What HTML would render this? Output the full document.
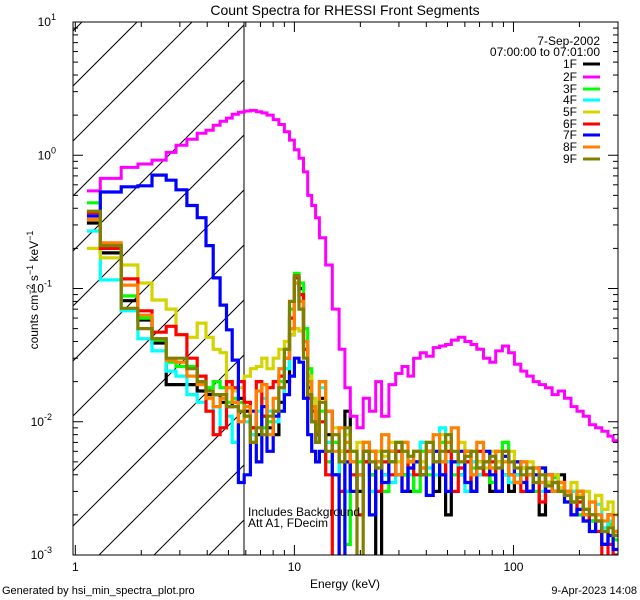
<!DOCTYPE html>
<html><head><meta charset="utf-8"><style>
body{margin:0;background:#fff;}
svg{display:block;font-family:"Liberation Sans",sans-serif;}
</style></head><body>
<svg id="chart" width="640" height="600" viewBox="0 0 640 600" xmlns="http://www.w3.org/2000/svg">
<rect width="640" height="600" fill="#fff"/>
<text x="345" y="15" text-anchor="middle" font-size="14">Count Spectra for RHESSI Front Segments</text>
<defs><clipPath id="hatchclip"><rect x="73" y="22" width="171" height="533"/></clipPath>
<clipPath id="plotclip"><rect x="73" y="22" width="545" height="533"/></clipPath></defs>
<g id="hatch" clip-path="url(#hatchclip)"></g>
<line x1="244" y1="22" x2="244" y2="555" stroke="#000" stroke-width="1"/>
<g id="series" clip-path="url(#plotclip)"></g>
<g id="axes"></g>
<text x="345" y="588" text-anchor="middle" font-size="12">Energy (keV)</text>
<text transform="translate(38,290) rotate(-90)" text-anchor="middle" font-size="12">counts cm<tspan dy="-5" font-size="9">−2</tspan><tspan dy="5"> s</tspan><tspan dy="-5" font-size="9">−1</tspan><tspan dy="5"> keV</tspan><tspan dy="-5" font-size="9">−1</tspan></text>
<text x="600" y="45" text-anchor="end" font-size="12">7-Sep-2002</text>
<text x="600" y="56" text-anchor="end" font-size="12">07:00:00 to 07:01:00</text>
<g id="legend"></g>
<text x="248" y="516" font-size="12">Includes Background</text>
<text x="248" y="527" font-size="12">Att A1, FDecim</text>
<text x="2" y="594" font-size="11">Generated by hsi_min_spectra_plot.pro</text>
<text x="637" y="594" text-anchor="end" font-size="11">9-Apr-2023 14:08</text>
</svg>
<script>
const edges=[1.13,1.3,1.62,1.93,2.24,2.6,2.88,3.23,3.6,3.95,4.26,4.58,4.9,5.2,5.55,5.9,
6.3,6.7,7.1,7.5,8.0,8.5,9.0,9.5,10,10.5,11,11.5,12,12.5,13,
13.9,14.9,16,17,18,19.3,20.6,22,23.5,25,27,29,31,33,35,37.5,40,43,46,49,52,56,60,64,68,73,78,83,89,95,101,108,115,123,131,140,150,160,171,183,195,208,222,237,253,270,285,300];
const seriesNames=["1F","2F","3F","4F","5F","6F","7F","8F","9F"];
const seriesColors=["#000000","#ff00ff","#00ff00","#00ffff","#d4d400","#ff0000","#0000ff","#ff8000","#808000"];
const s1F=[0.31,0.185,0.081,0.058,0.039,0.019,0.019,0.019,0.017,0.016,0.016,0.014,0.013,0.014,0.015,
0.012,0.009,0.008,0.011,0.009,0.008,0.014,0.02,0.045,0.12,0.1,0.04,0.018,0.01,0.008,
0.015,0.008,0.004,0.006,0.012,0.005,0.003,0.005,0.004,0.0009,0.004,0.005,0.006,0.004,0.003,0.005,0.004,0.006,0.003,0.005,0.002,0.005,0.004,0.006,0.003,0.005,0.004,0.003,0.005,0.004,0.003,0.004,0.0045,0.003,0.004,0.002,0.0035,0.003,0.004,0.003,0.0025,0.003,0.002,0.0018,0.002,0.0012,0.002,0.0015];
const s2F=[0.54,0.67,0.81,0.86,0.92,1.05,1.19,1.32,1.46,1.54,1.68,1.8,1.9,2.03,2.1,
2.15,2.17,2.12,2.08,2.0,1.85,1.7,1.5,1.3,1.1,0.95,0.75,0.5,0.42,0.34,
0.24,0.15,0.07,0.035,0.018,0.011,0.009,0.015,0.012,0.02,0.011,0.019,0.023,0.026,0.022,0.03,0.033,0.031,0.036,0.037,0.038,0.041,0.043,0.04,0.038,0.035,0.03,0.028,0.034,0.037,0.033,0.027,0.024,0.022,0.02,0.019,0.018,0.016,0.017,0.015,0.013,0.012,0.011,0.0095,0.009,0.0085,0.0078,0.0072];
const s3F=[0.44,0.21,0.088,0.06,0.041,0.028,0.026,0.026,0.022,0.018,0.02,0.018,0.014,0.015,0.014,
0.011,0.008,0.012,0.009,0.01,0.012,0.02,0.035,0.07,0.13,0.11,0.05,0.025,0.012,0.008,
0.012,0.005,0.007,0.003,0.0012,0.006,0.005,0.007,0.004,0.006,0.003,0.005,0.007,0.004,0.005,0.003,0.006,0.004,0.005,0.007,0.005,0.004,0.006,0.005,0.0045,0.004,0.005,0.0035,0.006,0.007,0.004,0.005,0.0035,0.004,0.003,0.0045,0.003,0.0038,0.003,0.0025,0.003,0.002,0.0022,0.0018,0.002,0.0015,0.0017,0.0013];
const s4F=[0.27,0.116,0.068,0.042,0.034,0.024,0.022,0.016,0.014,0.012,0.013,0.009,0.011,0.007,0.01,
0.01,0.008,0.012,0.015,0.012,0.01,0.012,0.025,0.06,0.11,0.08,0.04,0.02,0.01,0.007,
0.018,0.007,0.004,0.005,0.003,0.005,0.004,0.006,0.003,0.005,0.004,0.0035,0.005,0.006,0.004,0.005,0.007,0.0045,0.004,0.009,0.005,0.006,0.004,0.003,0.005,0.004,0.006,0.0045,0.005,0.004,0.0035,0.004,0.005,0.0045,0.004,0.003,0.0035,0.004,0.003,0.0028,0.003,0.0025,0.0022,0.002,0.0024,0.0016,0.0018,0.0014];
const s5F=[0.2,0.17,0.15,0.11,0.082,0.07,0.045,0.043,0.055,0.043,0.035,0.033,0.02,0.017,0.018,
0.022,0.025,0.026,0.03,0.025,0.03,0.035,0.04,0.045,0.05,0.048,0.035,0.022,0.015,0.01,
0.02,0.012,0.009,0.006,0.008,0.005,0.007,0.006,0.005,0.006,0.0055,0.007,0.005,0.006,0.0045,0.006,0.005,0.007,0.006,0.008,0.006,0.005,0.007,0.0055,0.006,0.005,0.0045,0.006,0.005,0.0055,0.006,0.005,0.0045,0.005,0.004,0.0045,0.0035,0.004,0.0032,0.003,0.0035,0.0028,0.003,0.0025,0.0028,0.0022,0.0025,0.002];
const s6F=[0.37,0.2,0.118,0.068,0.047,0.052,0.045,0.03,0.022,0.012,0.008,0.009,0.02,0.018,0.02,
0.014,0.009,0.02,0.011,0.018,0.02,0.022,0.03,0.06,0.12,0.09,0.035,0.015,0.012,0.008,
0.01,0.004,0.0009,0.003,0.006,0.004,0.002,0.005,0.006,0.003,0.005,0.004,0.006,0.003,0.005,0.004,0.0045,0.006,0.005,0.004,0.006,0.003,0.0045,0.005,0.003,0.006,0.004,0.005,0.003,0.006,0.004,0.0035,0.003,0.004,0.0045,0.0025,0.004,0.003,0.0035,0.0028,0.002,0.0025,0.0018,0.002,0.0015,0.0009,0.0012,0.001];
const s7F=[0.35,0.53,0.58,0.59,0.71,0.65,0.55,0.42,0.34,0.21,0.12,0.075,0.049,0.029,0.0035,
0.004,0.012,0.005,0.013,0.006,0.011,0.012,0.016,0.022,0.03,0.028,0.015,0.008,0.006,0.005,
0.006,0.012,0.004,0.0009,0.005,0.003,0.004,0.006,0.002,0.005,0.0035,0.006,0.004,0.003,0.0045,0.005,0.004,0.0028,0.006,0.004,0.003,0.005,0.006,0.0035,0.003,0.0045,0.006,0.004,0.003,0.0055,0.004,0.005,0.0035,0.003,0.004,0.0045,0.003,0.0035,0.003,0.0025,0.002,0.0022,0.0018,0.0015,0.0018,0.0012,0.0014,0.0011];
const s8F=[0.33,0.22,0.106,0.063,0.042,0.029,0.028,0.022,0.019,0.015,0.013,0.015,0.018,0.014,0.01,
0.013,0.007,0.017,0.019,0.008,0.015,0.025,0.03,0.05,0.11,0.08,0.04,0.02,0.013,0.009,
0.02,0.012,0.006,0.009,0.007,0.005,0.004,0.007,0.006,0.005,0.008,0.006,0.004,0.007,0.005,0.006,0.0045,0.006,0.008,0.005,0.007,0.009,0.005,0.006,0.004,0.007,0.005,0.0045,0.006,0.005,0.004,0.0035,0.005,0.004,0.0045,0.0035,0.004,0.003,0.0035,0.003,0.0025,0.003,0.002,0.0025,0.002,0.0018,0.002,0.0015];
const s9F=[0.38,0.21,0.071,0.05,0.042,0.03,0.03,0.025,0.02,0.017,0.016,0.016,0.013,0.013,0.012,
0.011,0.007,0.009,0.008,0.011,0.012,0.018,0.035,0.08,0.125,0.07,0.03,0.016,0.01,0.007,
0.014,0.006,0.008,0.005,0.009,0.006,0.0009,0.006,0.005,0.0045,0.006,0.005,0.007,0.006,0.0055,0.006,0.004,0.007,0.005,0.006,0.008,0.006,0.005,0.0055,0.006,0.0045,0.005,0.0055,0.0045,0.006,0.005,0.0045,0.004,0.0045,0.0035,0.004,0.0033,0.0035,0.003,0.0028,0.0025,0.0027,0.0022,0.002,0.0018,0.0015,0.0016,0.0014];
const seriesData=[s1F,s2F,s3F,s4F,s5F,s6F,s7F,s8F,s9F];
const xTickLabels=["1","10","100"];
const xTickValues=[1,10,100];
const yTickExps=["1","0","-1","-2","-3"];

const NS="http://www.w3.org/2000/svg";
const L=73,R=618,T=22,B=555;
const xMinLog=Math.log10(0.976),xMaxLog=Math.log10(300);
const yMinLog=-3,yMaxLog=1;
function xs(e){return L+(Math.log10(e)-xMinLog)/(xMaxLog-xMinLog)*(R-L);}
function ys(v){v=Math.max(v,0.0008);return B-(Math.log10(v)-yMinLog)/(yMaxLog-yMinLog)*(B-T);}
function mk(tag,attrs,parent){const el=document.createElementNS(NS,tag);for(const k in attrs)el.setAttribute(k,attrs[k]);parent.appendChild(el);return el;}

const hatch=document.getElementById('hatch');
for(let k=-2;k<14;k++){const x0=137+55*k;
 const ln=mk('line',{x1:x0-600,y1:T+600,x2:x0,y2:T,stroke:'#000','stroke-width':1},hatch);
 
 
}

const sg=document.getElementById('series');
seriesData.forEach((vals,i)=>{
 let d='';
 vals.forEach((v,j)=>{const x1=xs(edges[j]),x2=xs(edges[j+1]),y=ys(v);
  d+=(j===0?'M':'L')+x1.toFixed(1)+' '+y.toFixed(1)+'L'+x2.toFixed(1)+' '+y.toFixed(1);});
 const p=mk('path',{d:d,fill:'none',stroke:seriesColors[i],'stroke-width':i===1?3:3.2,'stroke-linejoin':'miter'},sg);
 
 
});

const ag=document.getElementById('axes');
const frame=mk('rect',{x:L,y:T,width:R-L,height:B-T,fill:'none',stroke:'#000','stroke-width':1},ag);


for(let dec=0;dec<3;dec++){for(let m=1;m<10;m++){const e=m*Math.pow(10,dec);if(e<0.976||e>300)continue;
 const x=xs(e),len=m===1?10:5;
 const t1=mk('line',{x1:x,y1:B,x2:x,y2:B-len,stroke:'#000'},ag);
 
 
 const t2=mk('line',{x1:x,y1:T,x2:x,y2:T+len,stroke:'#000'},ag);
 
 
}}
xTickValues.forEach((v,i)=>{const t=mk('text',{x:xs(v),y:571,'text-anchor':'middle','font-size':12},ag);t.textContent=xTickLabels[i];
 
 
});
for(let dec=-3;dec<1;dec++){for(let m=1;m<10;m++){const v=m*Math.pow(10,dec);const y=ys(v);const len=m===1?10:5;
 const t1=mk('line',{x1:L,y1:y,x2:L+len,y2:y,stroke:'#000'},ag);
 
 
 const t2=mk('line',{x1:R,y1:y,x2:R-len,y2:y,stroke:'#000'},ag);
 
 
}}
yTickExps.forEach((ex)=>{const y=ys(Math.pow(10,+ex));
 const t=mk('text',{x:ex.length>1?52:56,y:y+4,'text-anchor':'end','font-size':12},ag);
 t.textContent='10';
 const sp=mk('tspan',{dy:-6,'font-size':9},t);sp.textContent=ex;
 
 
});

const lg=document.getElementById('legend');
const legY=[64,77,89,100,112,124,135,147,159];
seriesNames.forEach((n,i)=>{
 const g=mk('g',{},lg);
 
 
 const t=mk('text',{x:577,y:legY[i]+4,'text-anchor':'end','font-size':12},g);t.textContent=n;
 mk('line',{x1:583,y1:legY[i],x2:600,y2:legY[i],stroke:seriesColors[i],'stroke-width':3},g);
});
</script>
</body></html>
